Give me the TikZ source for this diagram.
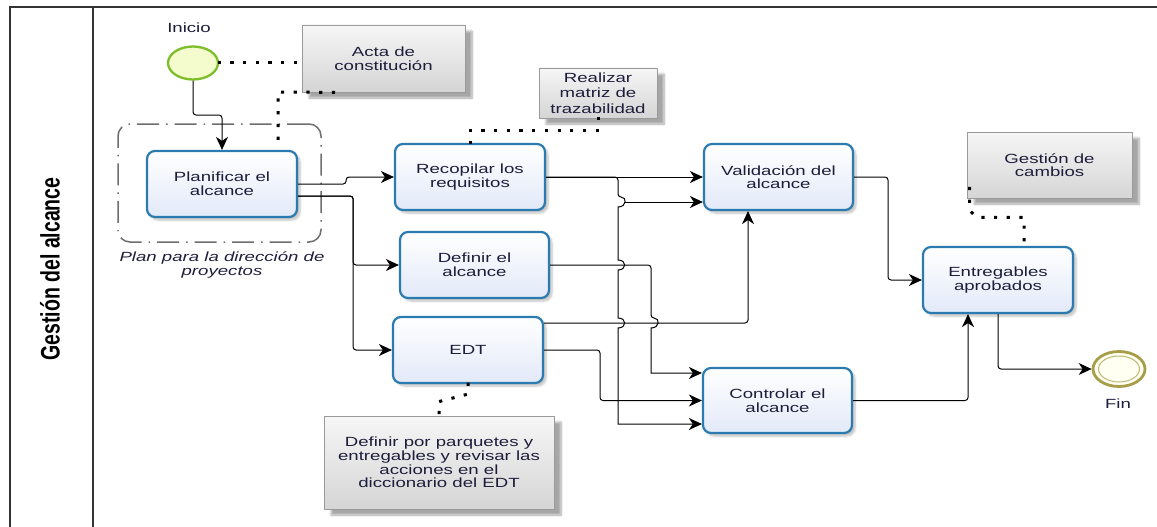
\documentclass[tikz,border=0pt]{standalone}
\usepackage{graphicx}
\usepackage{fontspec}
\setmainfont{Liberation Sans}[FakeStretch=1.4]
\newfontfamily\lanefont{Liberation Sans}
\usetikzlibrary{arrows.meta,shapes.geometric,shadows.blur}

\definecolor{taskline}{HTML}{2B7BB0}
\definecolor{taskfill}{HTML}{E2E9F8}
\definecolor{notetop}{HTML}{F6F6F6}
\definecolor{notebot}{HTML}{D5D5D5}
\definecolor{notegray}{HTML}{9A9A9A}
\definecolor{startline}{HTML}{7DBE2A}
\definecolor{startfill}{HTML}{F4FBCC}
\definecolor{endline}{HTML}{A89E4A}
\definecolor{endfill}{HTML}{FFFFF2}
\definecolor{groupgray}{HTML}{6E6E6E}
\definecolor{txt}{HTML}{1E1E3C}
\definecolor{framegray}{HTML}{333333}

\begin{document}
\begin{tikzpicture}[x=1pt,y=-1pt,
  font=\fontsize{13.3}{13.6}\selectfont,
  task/.style={draw=taskline, line width=2.2pt, rounded corners=8pt,
    top color=white, bottom color=taskfill, minimum width=150pt,
    minimum height=66pt, align=center, text=txt, inner sep=2pt,
    blur shadow={shadow xshift=3pt, shadow yshift=-3pt,
      shadow opacity=25, shadow blur steps=6}},
  note/.style={draw=notegray, line width=0.8pt, top color=notetop,
    bottom color=notebot, align=center, text=txt, inner sep=2pt,
    blur shadow={shadow xshift=7pt, shadow yshift=-6pt,
      shadow opacity=35, shadow blur steps=8}},
  flow/.style={draw=black, line width=1pt, rounded corners=3pt,
    -{Stealth[length=13pt,width=12pt,inset=4pt]}},
  assoc/.style={draw=black, line width=3pt, line cap=rect,
    dash pattern=on 0.2pt off 12.5pt},
  framel/.style={draw=framegray, line width=1.5pt},
  lbl/.style={text=txt, align=center}]

\useasboundingbox (0,0) rectangle (1157,527);

% pool frame and lane header
\draw[framel] (1157,7) -- (10,7) -- (10,527);
\draw[framel] (93,7) -- (93,527);
\node[rotate=90, text=black] (lane) at (50,269)
  {\scalebox{1}[1.37]{\lanefont\bfseries\fontsize{19.5}{20}\selectfont Gestión del alcance}};

% group around the planning task
\node[draw=groupgray, line width=1.5pt, rounded corners=12pt,
  dash pattern=on 22pt off 7pt on 1.5pt off 7pt,
  minimum width=203pt, minimum height=118pt] (grp) at (219.5,183) {};
\node[lbl, font=\fontsize{13.3}{13.6}\selectfont\itshape] (grplbl) at (222,265)
  {Plan para la dirección de\\proyectos};

% events
\node[ellipse, draw=startline, line width=2.3pt, fill=startfill,
  minimum width=50pt, minimum height=33pt, inner sep=0pt] (start) at (193,63) {};
\node[lbl] (inicio) at (189,28) {Inicio};
\node[ellipse, draw=endline, line width=2.8pt, fill=endfill,
  minimum width=52pt, minimum height=35pt, inner sep=0pt] (fin) at (1119,369) {};
\node[ellipse, draw=endline!75, line width=1pt,
  minimum width=41pt, minimum height=26pt, inner sep=0pt] (finin) at (fin.center) {};
\node[lbl] (finlbl) at (1118,404) {Fin};

% tasks
\node[task] (plan) at (222,184) {Planificar el\\alcance};
\node[task] (recop) at (470,177) {Recopilar los\\requisitos};
\node[task, minimum width=149pt] (defin) at (474.5,265) {Definir el\\alcance};
\node[task] (edt) at (468,350) {EDT};
\node[task, minimum width=149pt] (valid) at (778.5,177) {Validación del\\alcance};
\node[task, minimum width=149pt, minimum height=65pt] (control) at (777.5,400.5) {Controlar el\\alcance};
\node[task] (entreg) at (998,280) {Entregables\\aprobados};

% annotations
\node[note, minimum width=163pt, minimum height=67pt] (acta) at (383.5,58.5) {Acta de\\constitución};
\node[note, minimum width=118pt, minimum height=50pt,
  font=\fontsize{13.3}{15.5}\selectfont] (matriz) at (598,93) {Realizar\\matriz de\\trazabilidad};
\node[note, minimum width=165pt, minimum height=66pt] (cambios) at (1049.5,165) {Gestión de\\cambios};
\node[note, minimum width=230pt, minimum height=93pt] (parq) at (439,462.5)
  {Definir por parquetes y\\entregables y revisar las\\acciones en el\\diccionario del EDT};

% associations
\coordinate (pa) at (278,92);
\draw[assoc] (start.east) -- (start.east -| acta.west);
\draw[assoc] ([xshift=-50pt]acta.south) -- (pa) -- (pa |- plan.north);
\draw[assoc] (matriz.south) -- ++(0,12) -| (recop.north);
\draw[assoc] (edt.south) -- ++(0,10) -- ([yshift=14pt]parq.north) -- (parq.north);
\draw[assoc] ([xshift=3pt,yshift=10pt]cambios.south west) -- ++(0,22) -- ++(7,7)
  -| ([xshift=26pt]entreg.north);

% sequence flows
\draw[flow] (start.south) -- (193,115) -- (222,115) -- (plan.north);
\draw[flow] (plan.east) -- ++(48,0) |- (recop.west);
\draw[flow] ([yshift=-12pt]plan.east) -- ++(55,0) |- (defin.west);
\draw[flow] ([yshift=-12pt]plan.east) -- ++(55,0) |- (edt.west);
\draw[flow] (recop.east) -- (valid.west);
\draw[flow] (recop.east) -- (618,177) -- (618,197) [sharp corners]
  .. controls (627,197) and (627,207) .. (618,207) -- (618,260)
  .. controls (627,260) and (627,270) .. (618,270) -- (618,318)
  .. controls (627,318) and (627,328) .. (618,328) -- (618,424)
  [rounded corners=3pt] -- ([yshift=-23.5pt]control.west);
\coordinate (j1) at (624,202);
\draw[flow] (j1) -- (j1 -| valid.west);
\draw[flow] (defin.east) -- (651,265) -- (651,318) [sharp corners]
  .. controls (660,318) and (660,328) .. (651,328) -- (651,373)
  [rounded corners=3pt] -- ([yshift=27.5pt]control.west);
\draw[flow] ([yshift=27pt]edt.east) -| ([xshift=-30.5pt]valid.south);
\draw[flow] (edt.east) -- (600,350) |- (control.west);
\draw[flow] (valid.east) -- (888,177) |- (entreg.west);
\draw[flow] (control.east) -| ([xshift=-30pt]entreg.south);
\draw[flow] (entreg.south) |- (fin.west);

\end{tikzpicture}
\end{document}
